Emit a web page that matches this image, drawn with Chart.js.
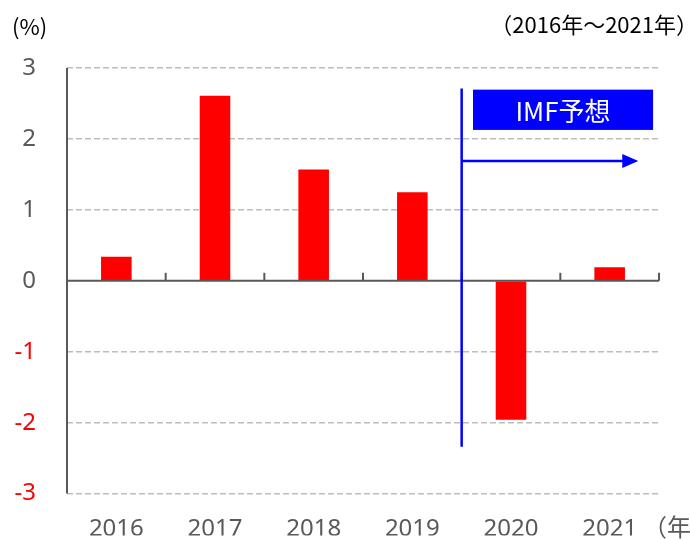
<!DOCTYPE html>
<html><head><meta charset="utf-8">
<script src="https://cdn.jsdelivr.net/npm/chart.js@4.4.1/dist/chart.umd.min.js"></script>
<style>html,body{margin:0;padding:0;background:#fff;}#wrap{width:690px;height:539px;position:relative;}</style>
</head><body><div id="wrap"><canvas id="c" width="690" height="539"></canvas></div>
<script>
const categories = ['2016', '2017', '2018', '2019', '2020', '2021'];
const growth = [0.34, 2.61, 1.57, 1.25, -1.96, 0.19];
const yMin = -3, yMax = 3, yStep = 1;
const unitLabel = '(%)';
const periodLabel = '（2016年～2021年）';
const xUnitLabel = '（年）';
const forecastLabel = 'IMF予想';
const forecastStartIndex = 3.5;

const GRAY = '#595959';
const FONT = '"Noto Sans", "Noto Sans CJK JP", sans-serif';
const JFONT = '"Noto Sans CJK JP", "Noto Sans", sans-serif';

const deco = {
  id: 'deco',
  afterDatasetsDraw(chart) {
    const ctx = chart.ctx, x = chart.scales.x, y = chart.scales.y, a = chart.chartArea;
    ctx.save();
    ctx.strokeStyle = GRAY; ctx.lineWidth = 2;
    ctx.beginPath(); ctx.moveTo(a.left, y.getPixelForValue(yMax)); ctx.lineTo(a.left, y.getPixelForValue(yMin)); ctx.stroke();
    const y0 = y.getPixelForValue(0);
    ctx.beginPath(); ctx.moveTo(a.left, y0); ctx.lineTo(a.right, y0); ctx.stroke();
    for (let i = 0; i < categories.length; i++) {
      const px = x.getPixelForValue(i + 0.5);
      ctx.beginPath(); ctx.moveTo(px, y0); ctx.lineTo(px, y0 - 8); ctx.stroke();
    }
    const fx = x.getPixelForValue(forecastStartIndex);
    ctx.strokeStyle = '#0000FF'; ctx.lineWidth = 2.5;
    ctx.beginPath(); ctx.moveTo(fx, y.getPixelForValue(2.71)); ctx.lineTo(fx, y.getPixelForValue(-2.34)); ctx.stroke();
    const ay = y.getPixelForValue(1.69);
    const tip = x.getPixelForValue(5.29);
    ctx.beginPath(); ctx.moveTo(fx, ay); ctx.lineTo(tip - 14, ay); ctx.stroke();
    ctx.fillStyle = '#0000FF';
    ctx.beginPath(); ctx.moveTo(tip, ay); ctx.lineTo(tip - 16, ay - 7); ctx.lineTo(tip - 16, ay + 7); ctx.closePath(); ctx.fill();
    const bx1 = x.getPixelForValue(3.615), bx2 = x.getPixelForValue(5.44);
    const by1 = y.getPixelForValue(2.695), by2 = y.getPixelForValue(2.127);
    ctx.fillRect(bx1, by1, bx2 - bx1, by2 - by1);
    ctx.fillStyle = '#FFFFFF';
    ctx.font = '26px ' + JFONT; ctx.textAlign = 'center'; ctx.textBaseline = 'middle';
    ctx.fillText(forecastLabel, (bx1 + bx2) / 2, (by1 + by2) / 2 + 1);
    ctx.fillStyle = '#000000';
    ctx.font = '22px ' + JFONT; ctx.textAlign = 'left';
    ctx.fillText(unitLabel, 12, 27);
    ctx.textAlign = 'right';
    ctx.fillText(periodLabel, 698, 25);
    ctx.fillStyle = GRAY; ctx.textAlign = 'left'; ctx.font = '24px ' + JFONT;
    ctx.fillText(xUnitLabel, 643, 527);
    ctx.restore();
  }
};

new Chart(document.getElementById('c'), {
  type: 'bar',
  data: { labels: categories, datasets: [{ data: growth, backgroundColor: '#FF0000', borderWidth: 0, barPercentage: 0.31, categoryPercentage: 1.0 }] },
  options: {
    responsive: false, animation: false,
    layout: { padding: { top: 68, right: 31, left: 0, bottom: 0 } },
    plugins: { legend: { display: false }, tooltip: { enabled: false } },
    scales: {
      x: {
        grid: { display: false, drawTicks: false },
        border: { display: false },
        ticks: { color: GRAY, font: { family: FONT, size: 24 }, padding: 21, maxRotation: 0 },
        afterFit(s) { s.height = 42; }
      },
      y: {
        min: yMin, max: yMax,
        grid: { color: (c) => c.tick && c.tick.value === 0 ? 'rgba(0,0,0,0)' : '#BDBDBD', lineWidth: 1.5, drawTicks: false },
        border: { display: false, dash: [6, 3] },
        ticks: { stepSize: yStep, padding: 31, color: (c) => c.tick.value < 0 ? '#FF0000' : GRAY, font: { family: FONT, size: 24 } },
        afterFit(s) { s.width = 67; }
      }
    }
  },
  plugins: [deco]
});
</script></body></html>
